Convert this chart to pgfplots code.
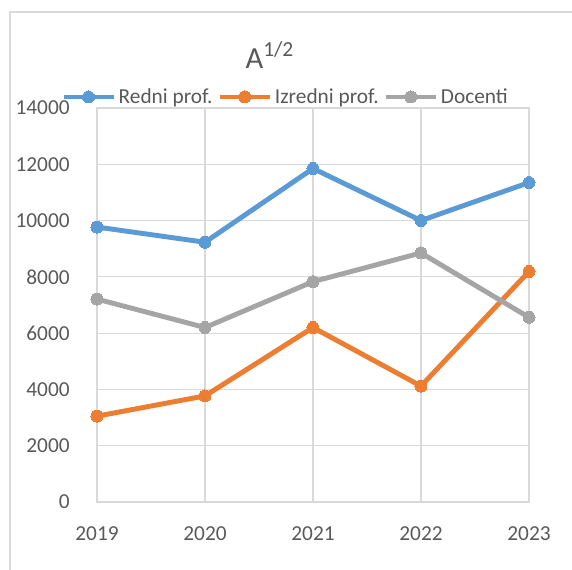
\documentclass[border=0pt]{standalone}
\usepackage{pgfplots}
\pgfplotsset{compat=1.18}
\usepackage{fontspec}
\setmainfont{Carlito}
\definecolor{cblue}{RGB}{91,155,213}
\definecolor{corange}{RGB}{237,125,49}
\definecolor{cgray}{RGB}{165,165,165}
\definecolor{ctext}{RGB}{89,89,89}
\definecolor{cgrid}{RGB}{217,217,217}
\definecolor{cframe}{RGB}{217,217,217}
\begin{document}
\begin{tikzpicture}
\useasboundingbox (-72.75pt,-50.25pt) rectangle (356.25pt,376.5pt);
\draw[cframe,line width=0.8pt] (-65.25pt,-60pt) -- (-65.25pt,367.5pt) -- (370pt,367.5pt);
\begin{axis}[
  at={(0,0)}, anchor=origin,
  scale only axis,
  width=324pt, height=295.5pt,
  xmin=2019, xmax=2023, ymin=0, ymax=14000,
  xtick={2019,2020,2021,2022,2023},
  ytick={0,2000,...,14000},
  scaled ticks=false,
  xticklabel style={/pgf/number format/1000 sep={}, yshift=-15pt},
  yticklabel style={/pgf/number format/1000 sep={}, xshift=-17pt},
  /pgf/number format/assume math mode=true,
  ticklabel style={font=\fontsize{16pt}{18pt}\selectfont, text=ctext},
  major tick length=0pt,
  grid=major,
  major grid style={cgrid, line width=0.8pt},
  axis line style={cgrid, line width=0.8pt},
  clip=false,
  legend columns=3,
  legend style={draw=none, fill=none, at={(0.437,1.028)}, anchor=center,
    font=\fontsize{16pt}{18pt}\selectfont, text=ctext, inner sep=0pt,
    /tikz/every even column/.append style={column sep=1.5pt}},
  legend image code/.code={\draw[mark repeat=2,mark phase=2,#1] plot coordinates {(0pt,0pt) (18.75pt,0pt) (37.5pt,0pt)};},
  every axis plot/.append style={line width=3.7pt, mark=*, mark size=4.5pt, line join=round},
]
\addplot[cblue, mark options={fill=cblue, draw=cblue, line width=0pt}] coordinates {(2019,9770) (2020,9230) (2021,11850) (2022,10000) (2023,11350)};
\addlegendentry{Redni prof.}
\addplot[corange, mark options={fill=corange, draw=corange, line width=0pt}] coordinates {(2019,3050) (2020,3770) (2021,6200) (2022,4120) (2023,8190)};
\addlegendentry{Izredni prof.}
\addplot[cgray, mark options={fill=cgray, draw=cgray, line width=0pt}] coordinates {(2019,7210) (2020,6200) (2021,7830) (2022,8850) (2023,6560)};
\addlegendentry{Docenti}
\node[text=ctext, font=\fontsize{23pt}{26pt}\selectfont] at (rel axis cs:0.40,1.134) {A\textsuperscript{1/2}};
\end{axis}
\end{tikzpicture}
\end{document}
